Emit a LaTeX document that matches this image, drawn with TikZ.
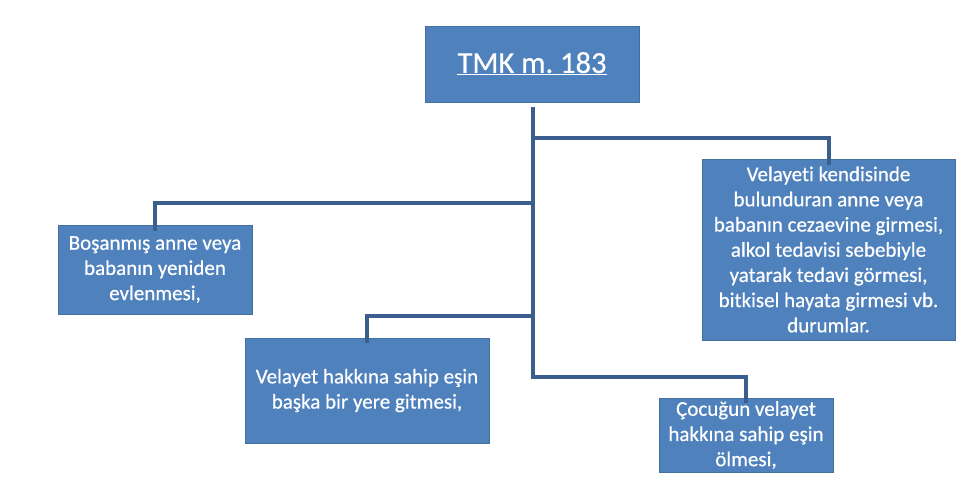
\documentclass[tikz,border=0pt]{standalone}
\usepackage{fontspec}
\setmainfont{Carlito}[Ligatures=NoCommon]
\newfontfamily\boxfont{Carlito}[FakeBold=0.5, Ligatures=NoCommon]
\usepackage{xcolor}
\usetikzlibrary{arrows}
\frenchspacing

\definecolor{boxblue}{HTML}{4F81BD}
\definecolor{boxedge}{HTML}{44709F}
\definecolor{linkblue}{HTML}{3A5F8E}

\tikzset{
  cbox/.style={fill=boxblue, draw=boxedge, line width=0.8pt, text=white,
    align=center, inner sep=0pt,
    font=\boxfont\fontsize{21}{25.2}\selectfont},
  link/.style={draw=linkblue, line width=4pt, line join=miter, line cap=butt}
}

\begin{document}
\begin{tikzpicture}[x=1pt,y=-1pt]
\useasboundingbox (0,0) rectangle (980,493);

\node[cbox, minimum width=214pt, minimum height=76pt,
  font=\boxfont\fontsize{30.5}{34}\selectfont] (tmk) at (532,64)
  {\raisebox{3pt}{\underline{TMK m. 183}}};

\node[cbox, minimum width=194pt, minimum height=89pt] (bosanma) at (155,269.5)
  {Boşanmış anne veya\\babanın yeniden\\evlenmesi,};
\node[cbox, minimum width=244pt, minimum height=105pt] (gitme) at (367,390.5)
  {Velayet hakkına sahip eşin\\başka bir yere gitmesi,};
\node[cbox, minimum width=253pt, minimum height=181pt] (durum) at (828.5,249.5)
  {Velayeti kendisinde\\bulunduran anne veya\\babanın cezaevine girmesi,\\alkol tedavisi sebebiyle\\yatarak tedavi görmesi,\\bitkisel hayata girmesi vb.\\durumlar.};
\node[cbox, minimum width=174pt, minimum height=74pt] (olum) at (746,435)
  {Çocuğun velayet\\hakkına sahip eşin\\ölmesi,};

% trunk and branches
\coordinate (t0) at (533,107);
\coordinate (t1) at (533,138);
\coordinate (t2) at (533,203);
\coordinate (t3) at (533,316);
\coordinate (t4) at (533,377);

\draw[link] (t0) -- (t4) -| ([yshift=-5pt]olum.north);
\draw[link] (t1) -| ([yshift=-6pt]durum.north);
\draw[link] (t2) -| ([yshift=-6pt]bosanma.north);
\draw[link] (t3) -| ([yshift=-5pt]gitme.north);

\end{tikzpicture}
\end{document}
